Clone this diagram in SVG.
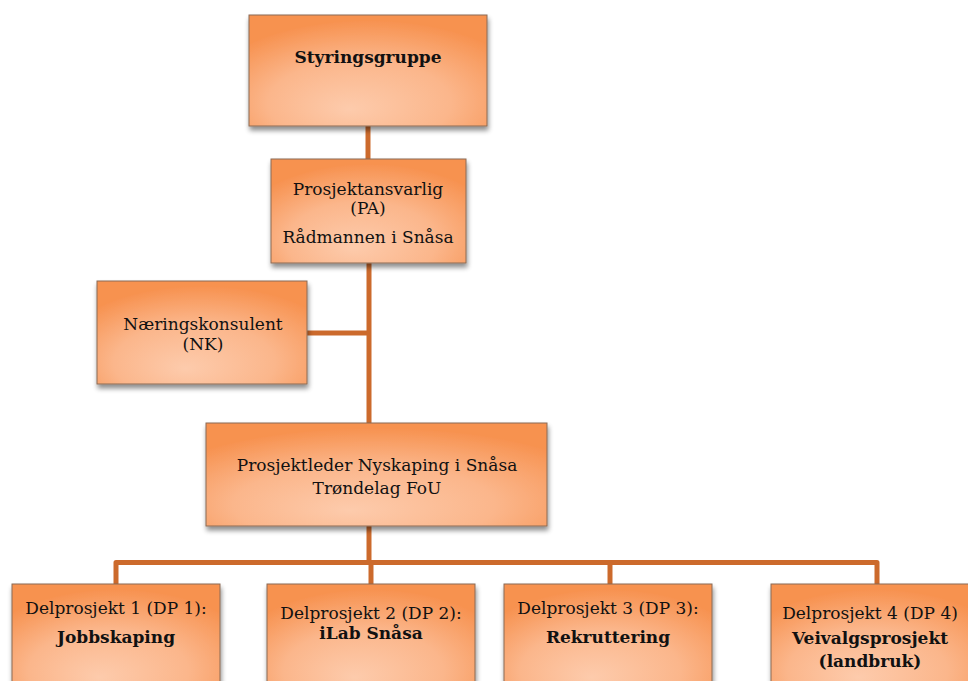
<svg xmlns="http://www.w3.org/2000/svg" width="968" height="681" viewBox="0 0 968 681">
<style>
  .box { fill: url(#g); stroke: #8a6a55; stroke-width: 1; filter: url(#sh); }
  .t { font-family: "DejaVu Serif", "Liberation Serif", serif; font-size: 17px; fill: #111; text-anchor: middle; }
  .b { font-weight: bold; }
  .con { fill: none; stroke: #cc6a2c; stroke-width: 5; stroke-linejoin: round; }
</style>
<defs>
  <radialGradient id="g" cx="0.5" cy="0.75" r="0.7" fx="0.42" fy="0.85">
    <stop offset="0" stop-color="#fdcbac"/>
    <stop offset="0.55" stop-color="#fbb68b"/>
    <stop offset="1" stop-color="#f79250"/>
  </radialGradient>
  <filter id="sh" x="-10%" y="-10%" width="125%" height="130%">
    <feGaussianBlur in="SourceAlpha" stdDeviation="2.5"/>
    <feOffset dx="1" dy="4" result="o"/>
    <feComponentTransfer><feFuncA type="linear" slope="0.45"/></feComponentTransfer>
    <feMerge><feMergeNode/><feMergeNode in="SourceGraphic"/></feMerge>
  </filter>
</defs>
<rect width="968" height="681" fill="#fff"/>
<g id="connectors">
  <line class="con" x1="368" y1="126" x2="368" y2="159"/>
  <line class="con" x1="369" y1="263" x2="369" y2="423"/>
  <line class="con" x1="307" y1="333" x2="369" y2="333"/>
  <line class="con" x1="369" y1="526" x2="369" y2="562"/>
  <path class="con" d="M116 584 V562.5 H877 V584"/>
  <line class="con" x1="371" y1="562" x2="371" y2="584"/>
  <line class="con" x1="610" y1="562" x2="610" y2="584"/>
</g>
<g id="styringsgruppe">
  <rect class="box" x="249" y="15" width="238" height="111"/>
  <text class="t b" x="368" y="63">Styringsgruppe</text>
</g>
<g id="pa">
  <rect class="box" x="271" y="159" width="195" height="104"/>
  <text class="t" x="368" y="195">Prosjektansvarlig</text>
  <text class="t" x="368" y="214">(PA)</text>
  <text class="t" x="368" y="243">Rådmannen i Snåsa</text>
</g>
<g id="nk">
  <rect class="box" x="97" y="281" width="210" height="103"/>
  <text class="t" x="203" y="330">Næringskonsulent</text>
  <text class="t" x="203" y="350">(NK)</text>
</g>
<g id="pl">
  <rect class="box" x="206" y="423" width="341" height="103"/>
  <text class="t" x="377" y="471">Prosjektleder Nyskaping i Snåsa</text>
  <text class="t" x="377" y="494">Trøndelag FoU</text>
</g>
<g id="dp1">
  <rect class="box" x="12" y="584" width="208" height="110"/>
  <text class="t" x="116" y="614">Delprosjekt 1 (DP 1):</text>
  <text class="t b" x="116" y="643">Jobbskaping</text>
</g>
<g id="dp2">
  <rect class="box" x="267" y="584" width="208" height="110"/>
  <text class="t" x="371" y="619">Delprosjekt 2 (DP 2):</text>
  <text class="t b" x="371" y="639">iLab Snåsa</text>
</g>
<g id="dp3">
  <rect class="box" x="504" y="584" width="208" height="110"/>
  <text class="t" x="608" y="614">Delprosjekt 3 (DP 3):</text>
  <text class="t b" x="608" y="643">Rekruttering</text>
</g>
<g id="dp4">
  <rect class="box" x="771" y="584" width="208" height="110"/>
  <text class="t" x="870" y="619">Delprosjekt 4 (DP 4)</text>
  <text class="t b" x="870" y="644">Veivalgsprosjekt</text>
  <text class="t b" x="870" y="667">(landbruk)</text>
</g>
</svg>
